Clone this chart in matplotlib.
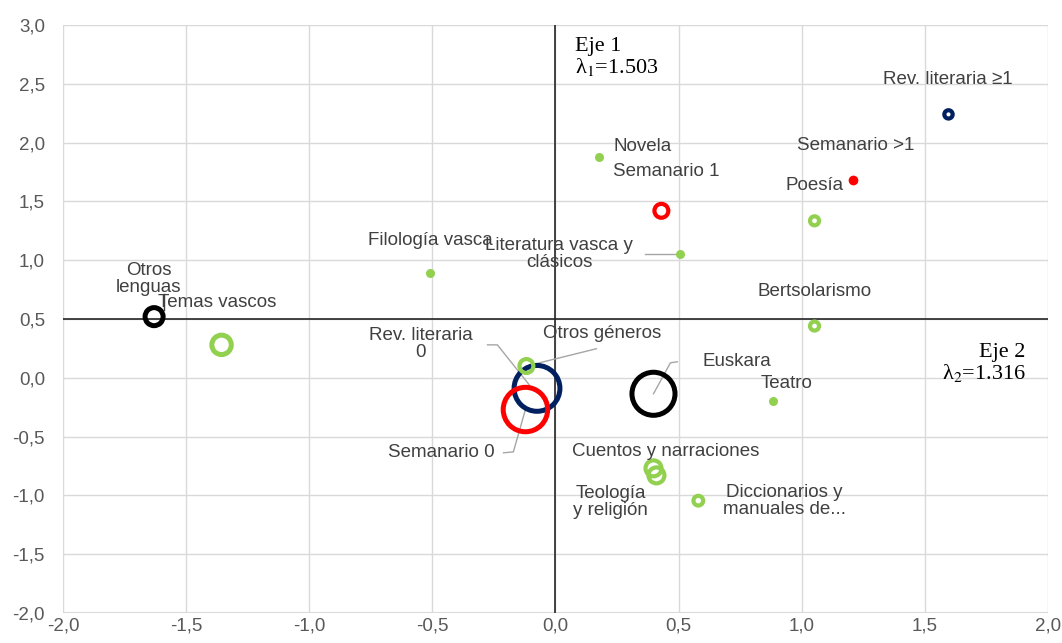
import numpy as np
import matplotlib.pyplot as plt
from matplotlib.ticker import FuncFormatter, MultipleLocator

# Coordinates on the two factorial axes
names = ['Otros lenguas', 'Temas vascos', 'Filología vasca', 'Novela', 'Semanario 1',
         'Literatura vasca y clásicos', 'Poesía', 'Semanario >1', 'Rev. literaria ≥1',
         'Bertsolarismo', 'Teatro', 'Euskara', 'Rev. literaria 0', 'Semanario 0',
         'Otros géneros', 'Cuentos y narraciones', 'Teología y religión',
         'Diccionarios y manuales de...']
eje1 = [-1.63, -1.356, -0.508, 0.175, 0.43, 0.504, 1.052, 1.21, 1.596,
        1.052, 0.885, 0.398, -0.075, -0.122, -0.118, 0.41, 0.398, 0.58]
eje2 = [0.52, 0.28, 0.89, 1.88, 1.42, 1.05, 1.335, 1.68, 2.24,
        0.44, -0.2, -0.136, -0.09, -0.27, 0.10, -0.83, -0.77, -1.045]
# bubble diameter (pt) and group of each modality
bubble = [13, 14, 6.5, 6.5, 10, 6.5, 6.5, 7, 6,
          6.5, 6.5, 31, 33, 32, 10, 11.5, 11.5, 7]
group = ['lengua', 'genero', 'genero', 'genero', 'semanario', 'genero', 'genero',
         'semanario', 'revista', 'genero', 'genero', 'lengua', 'revista', 'semanario',
         'genero', 'genero', 'genero', 'genero']
filled = [False, False, True, True, False, True, False, True, False,
          False, True, False, False, False, False, False, False, False]

colors = {'genero': '#92d050', 'semanario': '#ff0000', 'revista': '#002060', 'lengua': '#000000'}
text_color = '#404040'
lead_color = '#a6a6a6'

plt.rcParams['font.family'] = ['Liberation Sans', 'DejaVu Sans']
plt.rcParams['mathtext.fontset'] = 'stix'

fig = plt.figure(figsize=(10.62, 6.43), dpi=100)
ax = fig.add_axes([0.0593, 0.0467, 0.9275, 0.9144])

ax.set_xlim(-2, 2)
ax.set_ylim(-2, 3)
ax.xaxis.set_major_locator(MultipleLocator(0.5))
ax.yaxis.set_major_locator(MultipleLocator(0.5))
comma = FuncFormatter(lambda v, p: ('%.1f' % v).replace('.', ','))
ax.xaxis.set_major_formatter(comma)
ax.yaxis.set_major_formatter(comma)
ax.grid(True, color='#d9d9d9', linewidth=1.0)
ax.set_axisbelow(True)
for s in ax.spines.values():
    s.set_visible(False)
ax.tick_params(length=0, labelsize=13.5, colors='#595959')
ax.tick_params(axis='y', pad=13)
ax.tick_params(axis='x', pad=3)
ax.axhline(-2, color='#d9d9d9', linewidth=1.5, zorder=1)

# factorial axes
ax.axvline(0, color='#262626', linewidth=1.2, zorder=2)
ax.axhline(0.5, color='#262626', linewidth=1.2, zorder=2)

# bubbles
for x, y, d, g, f in zip(eje1, eje2, bubble, group, filled):
    c = colors[g]
    if f:
        ax.scatter(x, y, s=d ** 2, color=c, linewidths=0, zorder=4)
    else:
        lw = 3.6 if d > 12 else 3.0
        ax.scatter(x, y, s=d ** 2, facecolors='none', edgecolors=c, linewidths=lw, zorder=4)

# labels
lab = dict(fontsize=13.5, color=text_color, ha='center', va='center', linespacing=1.0, zorder=5)
ax.text(-1.653, 0.84, 'Otros\nlenguas', **lab)
ax.text(-1.616, 0.64, 'Temas vascos', **{**lab, 'ha': 'left'})
ax.text(-0.508, 1.165, 'Filología vasca', **lab)
ax.text(0.016, 1.055, 'Literatura vasca y\nclásicos', **lab)
ax.text(0.236, 1.964, 'Novela', **{**lab, 'ha': 'left'})
ax.text(0.451, 1.752, 'Semanario 1', **lab)
ax.text(1.218, 1.973, 'Semanario >1', **lab)
ax.text(1.052, 1.633, 'Poesía', **lab)
ax.text(1.592, 2.534, 'Rev. literaria ≥1', **lab)
ax.text(1.052, 0.731, 'Bertsolarismo', **lab)
ax.text(0.597, 0.136, 'Euskara', **{**lab, 'ha': 'left'})
ax.text(0.938, -0.05, 'Teatro', **lab)
ax.text(-0.548, 0.29, 'Rev. literaria\n0', **lab)
ax.text(0.191, 0.374, 'Otros géneros', **lab)
ax.text(-0.248, -0.638, 'Semanario 0', **{**lab, 'ha': 'right'})
ax.text(0.447, -0.629, 'Cuentos y narraciones', **lab)
ax.text(0.223, -1.054, 'Teología\ny religión', **lab)
ax.text(0.93, -1.046, 'Diccionarios y\nmanuales de...', **lab)

# leader lines
lead = dict(color=lead_color, linewidth=1.0, zorder=3)
ax.plot([0.365, eje1[5]], [1.05, eje2[5]], **lead)
ax.plot([0.495, 0.467, eje1[11]], [0.136, 0.128, eje2[11]], **lead)
ax.plot([-0.276, -0.236, eje1[12] - 0.02], [0.28, 0.28, eje2[12]], **lead)
ax.plot([0.166, eje1[14]], [0.247, eje2[14]], **lead)
ax.plot([-0.211, -0.171, eje1[13]], [-0.638, -0.63, eje2[13]], **lead)
ax.plot([-1.59, -1.59], [0.58, 0.71], color='#404040', linewidth=1.0, zorder=3)

# axis titles
serif = dict(fontsize=16, color='black', family=['Liberation Serif', 'DejaVu Serif'], zorder=5)
ax.text(0.08, 2.9, 'Eje 1\nλ$_1$=1.503', ha='left', va='top', linespacing=1.0, **serif)
ax.text(1.91, 0.3, 'Eje 2\nλ$_2$=1.316', ha='right', va='top', linespacing=1.0,
        multialignment='right', **serif)

fig.savefig('out.png', dpi=100)
